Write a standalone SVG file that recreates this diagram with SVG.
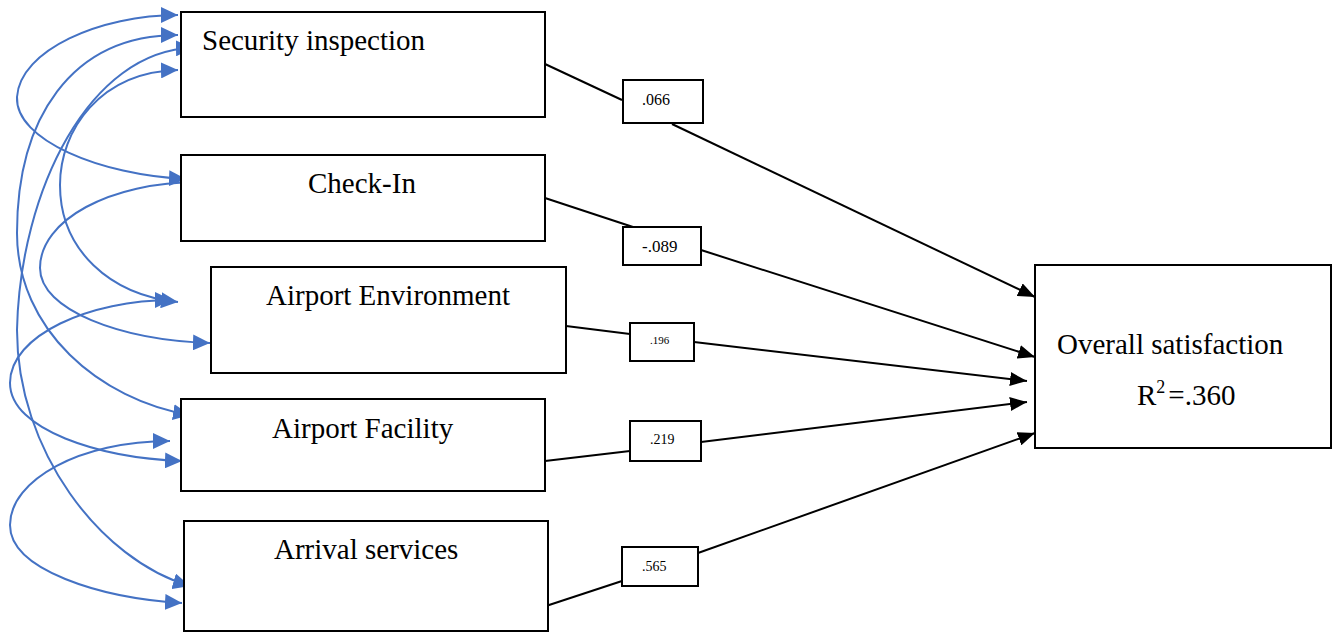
<svg xmlns="http://www.w3.org/2000/svg" width="1332" height="632" viewBox="0 0 1332 632">
<style>
.box{fill:#fff;stroke:#000;stroke-width:2}
.lbl{fill:#fff;stroke:#000;stroke-width:2}
.t{font-family:"Liberation Serif","Times New Roman",serif;font-size:29px;fill:#000}
.n{font-family:"Liberation Serif","Times New Roman",serif;fill:#000}
.path{fill:none;stroke:#000;stroke-width:2}
.cov{fill:none;stroke:#4472C4;stroke-width:2}
</style>
<defs>
<marker id="ab" markerUnits="userSpaceOnUse" markerWidth="17" markerHeight="14" refX="17" refY="7" orient="auto">
<path d="M0,0 L17,7 L0,14 z" fill="#000"/>
</marker>
<marker id="bl" markerUnits="userSpaceOnUse" markerWidth="17" markerHeight="16" refX="17" refY="8" orient="auto-start-reverse">
<path d="M0,0 L17,8 L0,16 z" fill="#4472C4"/>
</marker>
</defs>
<rect width="1332" height="632" fill="#fff"/>

<g id="connectors">
<line class="path" x1="545" y1="64" x2="622" y2="100"/>
<line class="path" x1="672" y1="124" x2="1035" y2="297" marker-end="url(#ab)"/>
<line class="path" x1="545" y1="198" x2="633" y2="227"/>
<line class="path" x1="701" y1="250" x2="1035" y2="357" marker-end="url(#ab)"/>
<line class="path" x1="566" y1="326" x2="630" y2="334"/>
<line class="path" x1="694" y1="342" x2="1027" y2="381" marker-end="url(#ab)"/>
<line class="path" x1="545" y1="461" x2="630" y2="451"/>
<line class="path" x1="701" y1="442" x2="1027" y2="402" marker-end="url(#ab)"/>
<line class="path" x1="546" y1="606" x2="622" y2="581"/>
<line class="path" x1="698" y1="553" x2="1035" y2="433" marker-end="url(#ab)"/>
<path class="cov" d="M178,15 C100,15 20,50 17,97 C15,140 100,175 186,179" marker-start="url(#bl)" marker-end="url(#bl)"/>
<path class="cov" d="M178,35 C70,35 17,120 17,233 C17,330 100,400 190,415" marker-start="url(#bl)" marker-end="url(#bl)"/>
<path class="cov" d="M193,48 C90,50 20,190 17,330 C17,450 100,560 190,586" marker-start="url(#bl)" marker-end="url(#bl)"/>
<path class="cov" d="M178,70 C100,72 60,130 60,185 C60,250 110,295 178,302" marker-start="url(#bl)" marker-end="url(#bl)"/>
<path class="cov" d="M199,182 C110,182 40,220 40,268 C40,310 120,340 210,343" marker-start="url(#bl)" marker-end="url(#bl)"/>
<path class="cov" d="M172,300 C90,300 10,335 10,383 C10,430 100,458 182,461" marker-start="url(#bl)" marker-end="url(#bl)"/>
<path class="cov" d="M170,441 C80,441 10,480 10,525 C10,570 100,598 182,603" marker-start="url(#bl)" marker-end="url(#bl)"/>
</g>

<g id="security">
<rect class="box" x="181" y="12" width="364" height="105"/>
<text class="t" x="202" y="50">Security inspection</text>
</g>
<g id="checkin">
<rect class="box" x="181" y="155" width="364" height="86"/>
<text class="t" x="308" y="193">Check-In</text>
</g>
<g id="environment">
<rect class="box" x="211" y="267" width="355" height="106"/>
<text class="t" x="266" y="305">Airport Environment</text>
</g>
<g id="facility">
<rect class="box" x="181" y="399" width="364" height="92"/>
<text class="t" x="272" y="438">Airport Facility</text>
</g>
<g id="arrival">
<rect class="box" x="184" y="521" width="364" height="110"/>
<text class="t" x="274" y="559">Arrival services</text>
</g>
<g id="overall">
<rect class="box" x="1035" y="265" width="296" height="183"/>
<text class="t" x="1057" y="354">Overall satisfaction</text>
<text class="t" x="1137" y="405">R<tspan font-size="18" dy="-12">2</tspan><tspan dy="12" dx="3">=.360</tspan></text>
</g>

<g id="c1">
<rect class="lbl" x="623" y="80" width="80" height="43"/>
<text class="n" x="642" y="105" font-size="16">.066</text>
</g>
<g id="c2">
<rect class="lbl" x="623" y="227" width="78" height="38"/>
<text class="n" x="642" y="252" font-size="17">-.089</text>
</g>
<g id="c3">
<rect class="lbl" x="630" y="323" width="64" height="38"/>
<text class="n" x="650" y="344" font-size="11">.196</text>
</g>
<g id="c4">
<rect class="lbl" x="630" y="421" width="71" height="40"/>
<text class="n" x="650" y="444" font-size="14">.219</text>
</g>
<g id="c5">
<rect class="lbl" x="622" y="547" width="76" height="39"/>
<text class="n" x="642" y="571" font-size="14">.565</text>
</g>
</svg>
